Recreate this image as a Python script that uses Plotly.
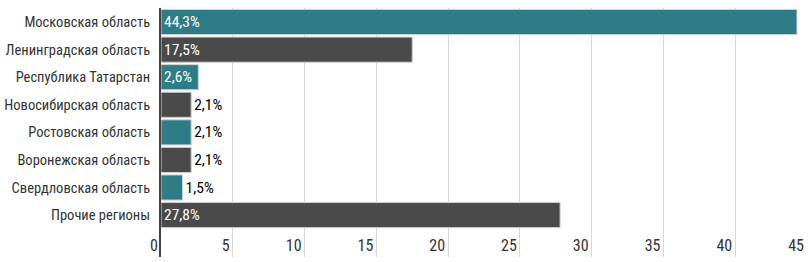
import plotly.graph_objects as go

regions = ["Московская область", "Ленинградская область", "Республика Татарстан",
           "Новосибирская область", "Ростовская область", "Воронежская область",
           "Свердловская область", "Прочие регионы"]
shares = [44.3, 17.5, 2.6, 2.1, 2.1, 2.1, 1.5, 27.8]
labels = ["44,3%", "17,5%", "2,6%", "2,1%", "2,1%", "2,1%", "1,5%", "27,8%"]
x_ticks = [0, 5, 10, 15, 20, 25, 30, 35, 40, 45]

TEAL = "#2e7c86"
GRAY = "#4a4a4a"
FONT = "Roboto Condensed, Liberation Sans Narrow, sans-serif"

colors = [TEAL if i % 2 == 0 else GRAY for i in range(len(regions))]
inside = [v > 2.5 for v in shares]

fig = go.Figure(go.Bar(
    y=regions, x=shares, orientation="h",
    marker=dict(color=colors, line=dict(color="#cfcfcf", width=1)),
    text=labels,
    textposition=["inside" if f else "outside" for f in inside],
    insidetextanchor="start",
    constraintext="none",
    cliponaxis=False,
    insidetextfont=dict(family=FONT, size=15.5, color="white"),
    outsidetextfont=dict(family=FONT, size=15.5, color="black"),
    hoverinfo="skip",
))

fig.update_layout(
    width=808, height=262,
    margin=dict(l=161, r=1, t=8, b=5),
    paper_bgcolor="white", plot_bgcolor="white",
    bargap=0.09,
    showlegend=False,
    font=dict(family=FONT, size=15, color="#333333"),
)
fig.update_xaxes(
    range=[0, 45], tickvals=x_ticks, ticktext=[str(t) for t in x_ticks],
    showgrid=True, gridcolor="#d8d8d8", gridwidth=1,
    zeroline=False, showline=False, automargin=False,
    ticklabelposition="outside left", ticks="", ticklabelstandoff=-23,
    ticklabelshift=-3,
    tickfont=dict(family=FONT, size=16, color="#333333"),
)
fig.update_yaxes(
    type="category", categoryorder="array", categoryarray=regions,
    range=[8.52, -0.51], automargin=False,
    showgrid=False, zeroline=False,
    showline=True, linecolor="#444444", linewidth=2,
    ticks="outside", ticklen=6, tickcolor="rgba(0,0,0,0)",
    tickfont=dict(family=FONT, size=14.5, color="#333333"),
)
fig.write_html("out.html")
